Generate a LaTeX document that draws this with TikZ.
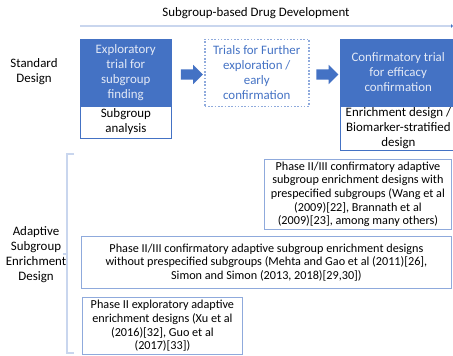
\documentclass[tikz,border=0pt]{standalone}
\usepackage{fontspec}
\setmainfont{Carlito}
\usetikzlibrary{shapes.arrows,calc,arrows.meta}
\definecolor{mblue}{HTML}{4472C4}
\definecolor{lblue}{HTML}{8FAADC}
\definecolor{pblue}{HTML}{C9D6EE}
\definecolor{wtext}{HTML}{E3E9F6}
\tikzset{
  bigfont/.style={font=\fontsize{12.9}{15}\selectfont},
  smallfont/.style={font=\fontsize{12.2}{13.7}\selectfont},
  filledbox/.style={draw=mblue, fill=mblue, text=wtext, align=center, inner sep=0pt, anchor=north west, bigfont},
  whitebox/.style={draw=mblue, fill=white, text=black, align=center, inner sep=0pt, anchor=north west, bigfont, line width=0.8pt},
  dotbox/.style={draw=lblue, line width=1.6pt, dash pattern=on 1.6pt off 1.7pt, text=mblue, align=center, inner sep=0pt, anchor=north west, bigfont},
  lowbox/.style={draw=lblue, fill=white, text=black, align=center, inner sep=0pt, anchor=north west, smallfont, line width=0.8pt},
  blockarrow/.style={single arrow, fill=mblue, draw=none, minimum height=22pt, inner xsep=0pt, inner ysep=5pt, single arrow head extend=4.5pt},
  sidelabel/.style={align=center, bigfont, text=black},
}
\begin{document}
\begin{tikzpicture}[x=1pt,y=-1pt]
\useasboundingbox (0,0) rectangle (453,356);
\clip (0,0) rectangle (453,356);
% title and timeline
\node[bigfont] (title) at (256,13) {Subgroup-based Drug Development};
\coordinate (tl1) at (80,26);
\coordinate (tl2) at (453,26);
\draw[pblue, line width=1.8pt, -{Latex[length=2pt,width=4pt,color=mblue]}] (tl1) -- (tl2);
% side labels
\node[sidelabel] (std) at (34,72) {Standard\\Design};
\node[sidelabel] (ada) at (36,255) {Adaptive\\Subgroup\\Enrichment\\Design};
% box 1
\node[filledbox, minimum width=91pt, minimum height=67pt] (b1) at (80,38.5) {Exploratory\\trial for\\subgroup\\finding};
\node[whitebox, minimum width=91pt, minimum height=32pt] (b1w) at (80,105.5) {Subgroup\\analysis};
% box 2
\node[dotbox, minimum width=104pt, minimum height=67pt] (b2) at (204,38.5) {Trials for Further\\exploration /\\early\\confirmation};
% box 3
\node[filledbox, minimum width=116pt, minimum height=67pt] (b3) at (340,38.5) {Confirmatory trial\\for efficacy\\confirmation};
\node[whitebox, minimum width=116pt, minimum height=44pt] (b3w) at (340,105.5) {Enrichment design /\\Biomarker-stratified\\design};
% arrows
\node[blockarrow] (a1) at ($(b1.east)!0.5!(b2.west)+(1.5,2)$) {};
\node[blockarrow] (a2) at ($(b2.east)!0.5!(b3.west)+(0,2)$) {};
% bracket
\coordinate (brt) at (74,154);
\coordinate (brm) at (63,254);
\coordinate (brb) at (74,353);
\draw[pblue, line width=1.1pt] (brt) -- (67,154) -- (67,353) -- (brb);
\draw[pblue, line width=1.1pt] (67,254) -- (brm);
% lower boxes
\node[lowbox, minimum width=187pt, minimum height=70pt] (b4) at (264,159) {Phase II/III confirmatory adaptive\\subgroup enrichment designs with\\prespecified subgroups (Wang et al\\(2009)[22], Brannath et al\\(2009)[23], among many others)};
\node[lowbox, minimum width=370pt, minimum height=52pt] (b5) at (81,236) {Phase II/III confirmatory adaptive subgroup enrichment designs\\without prespecified subgroups (Mehta and Gao et al (2011)[26],\\Simon and Simon (2013, 2018)[29,30])};
\node[lowbox, minimum width=160pt, minimum height=57pt] (b6) at (82,297) {Phase II exploratory adaptive\\enrichment designs (Xu et al\\(2016)[32], Guo et al\\(2017)[33])};
\end{tikzpicture}
\end{document}
